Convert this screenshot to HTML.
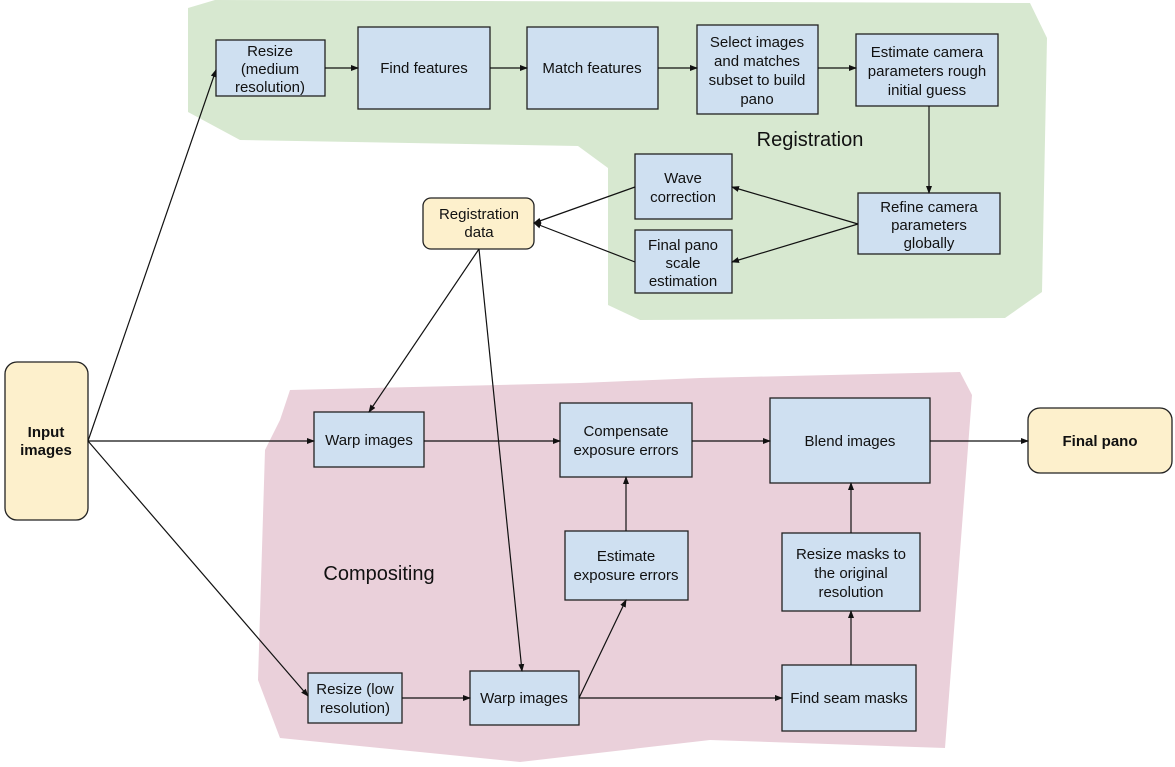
<!DOCTYPE html>
<html><head><meta charset="utf-8"><style>
html,body{margin:0;padding:0;background:#fff;}
svg{display:block;}
text{font-family:"Liberation Sans",sans-serif;font-size:15px;fill:#111;text-anchor:middle;}
.b{fill:#cfe0f1;stroke:#222;stroke-width:1.3;}
.y{fill:#fdf0cc;stroke:#222;stroke-width:1.3;}
.l{stroke:#111;stroke-width:1.2;fill:none;marker-end:url(#a);}
</style></head><body>
<svg width="1175" height="767" viewBox="0 0 1175 767">
<defs><marker id="a" markerWidth="8" markerHeight="8" refX="7" refY="4" orient="auto" markerUnits="userSpaceOnUse"><path d="M0,1 L8,4 L0,7 z" fill="#111"/></marker></defs>
<polygon points="188,8 215,0 1030,3 1047,38 1042,292 1005,318 640,320 608,305 608,168 578,146 240,140 188,112" fill="#d7e8d0"/>
<polygon points="290,390 580,383 700,378 960,372 972,395 945,748 710,740 520,762 280,738 258,680 265,450 280,420" fill="#ead0da"/>
<text x="810" y="146" style="font-size:20px">Registration</text>
<text x="379" y="580" style="font-size:20px">Compositing</text>
<rect class="b" x="216" y="40" width="109" height="56"/>
<text x="270" y="56">Resize</text><text x="270" y="74">(medium</text><text x="270" y="92">resolution)</text>
<rect class="b" x="358" y="27" width="132" height="82"/><text x="424" y="73">Find features</text>
<rect class="b" x="527" y="27" width="131" height="82"/><text x="592" y="73">Match features</text>
<rect class="b" x="697" y="25" width="121" height="89"/>
<text x="757" y="47">Select images</text><text x="757" y="66">and matches</text><text x="757" y="85">subset to build</text><text x="757" y="104">pano</text>
<rect class="b" x="856" y="34" width="142" height="72"/>
<text x="927" y="57">Estimate camera</text><text x="927" y="76">parameters rough</text><text x="927" y="95">initial guess</text>
<rect class="b" x="635" y="154" width="97" height="65"/><text x="683" y="183">Wave</text><text x="683" y="202">correction</text>
<rect class="b" x="635" y="230" width="97" height="63"/>
<text x="683" y="250">Final pano</text><text x="683" y="268">scale</text><text x="683" y="286">estimation</text>
<rect class="b" x="858" y="193" width="142" height="61"/>
<text x="929" y="212">Refine camera</text><text x="929" y="230">parameters</text><text x="929" y="248">globally</text>
<rect class="y" x="423" y="198" width="111" height="51" rx="8"/><text x="479" y="219">Registration</text><text x="479" y="237">data</text>
<rect class="y" x="5" y="362" width="83" height="158" rx="12"/>
<text x="46" y="437" style="font-weight:bold">Input</text><text x="46" y="455" style="font-weight:bold">images</text>
<rect class="b" x="314" y="412" width="110" height="55"/><text x="369" y="445">Warp images</text>
<rect class="b" x="560" y="403" width="132" height="74"/><text x="626" y="436">Compensate</text><text x="626" y="455">exposure errors</text>
<rect class="b" x="770" y="398" width="160" height="85"/><text x="850" y="446">Blend images</text>
<rect class="y" x="1028" y="408" width="144" height="65" rx="12"/><text x="1100" y="446" style="font-weight:bold">Final pano</text>
<rect class="b" x="565" y="531" width="123" height="69"/><text x="626" y="561">Estimate</text><text x="626" y="580">exposure errors</text>
<rect class="b" x="782" y="533" width="138" height="78"/>
<text x="851" y="559">Resize masks to</text><text x="851" y="578">the original</text><text x="851" y="597">resolution</text>
<rect class="b" x="308" y="673" width="94" height="50"/><text x="355" y="694">Resize (low</text><text x="355" y="713">resolution)</text>
<rect class="b" x="470" y="671" width="109" height="54"/><text x="524" y="703">Warp images</text>
<rect class="b" x="782" y="665" width="134" height="66"/><text x="849" y="703">Find seam masks</text>
<line class="l" x1="325" y1="68" x2="358" y2="68"/>
<line class="l" x1="490" y1="68" x2="527" y2="68"/>
<line class="l" x1="658" y1="68" x2="697" y2="68"/>
<line class="l" x1="818" y1="68" x2="856" y2="68"/>
<line class="l" x1="929" y1="106" x2="929" y2="193"/>
<line class="l" x1="858" y1="224" x2="732" y2="187"/>
<line class="l" x1="858" y1="224" x2="732" y2="262"/>
<line class="l" x1="635" y1="187" x2="534" y2="223"/>
<line class="l" x1="635" y1="262" x2="534" y2="223"/>
<line class="l" x1="88" y1="441" x2="216" y2="70"/>
<line class="l" x1="88" y1="441" x2="314" y2="441"/>
<line class="l" x1="88" y1="441" x2="308" y2="696"/>
<line class="l" x1="479" y1="249" x2="369" y2="412"/>
<line class="l" x1="479" y1="249" x2="522" y2="671"/>
<line class="l" x1="424" y1="441" x2="560" y2="441"/>
<line class="l" x1="692" y1="441" x2="770" y2="441"/>
<line class="l" x1="930" y1="441" x2="1028" y2="441"/>
<line class="l" x1="626" y1="531" x2="626" y2="477"/>
<line class="l" x1="579" y1="698" x2="626" y2="600"/>
<line class="l" x1="402" y1="698" x2="470" y2="698"/>
<line class="l" x1="579" y1="698" x2="782" y2="698"/>
<line class="l" x1="851" y1="665" x2="851" y2="611"/>
<line class="l" x1="851" y1="533" x2="851" y2="483"/>
</svg>
</body></html>
